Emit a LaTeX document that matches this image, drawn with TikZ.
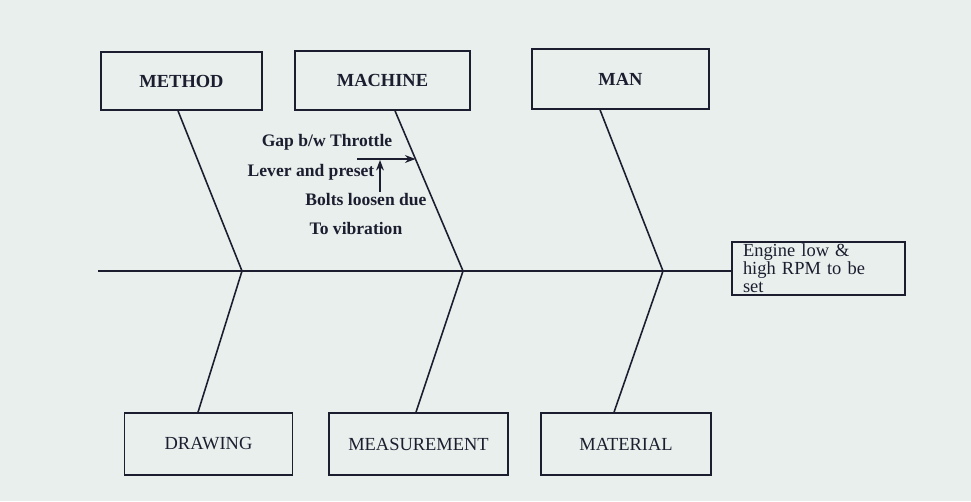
\documentclass[tikz,border=0pt]{standalone}
\usepackage{fontspec}
\usetikzlibrary{arrows.meta}
\setmainfont{Liberation Serif}
\definecolor{paper}{RGB}{233,239,236}
\definecolor{ink}{RGB}{28,30,48}
\tikzset{
  catbox/.style={draw=ink, line width=0.9pt, fill=paper, text=ink,
    inner sep=0pt, font=\fontsize{10.5}{12}\selectfont},
  headbox/.style={catbox, font=\fontsize{10.5}{12}\selectfont\bfseries},
  bone/.style={draw=ink, line width=0.9pt},
  note/.style={text=ink, inner sep=1pt, font=\fontsize{10}{12}\selectfont\bfseries}
}
\begin{document}
\begin{tikzpicture}[x=0.02cm, y=-0.02cm, >={Stealth[length=6pt,width=4.5pt]}]
    % Page and background
    \useasboundingbox[fill=paper] (0,0) rectangle (971,501);

    % Cause boxes above the spine
    \node[headbox, minimum width=3.22cm, minimum height=1.16cm] (method) at (181.5,81) {METHOD};
    \node[headbox, minimum width=3.5cm, minimum height=1.18cm] (machine) at (382.5,80.5) {MACHINE};
    \node[headbox, minimum width=3.54cm, minimum height=1.2cm] (man) at (620.5,79) {MAN};

    % Cause boxes below the spine
    \node[catbox, minimum width=3.36cm, minimum height=1.24cm] (drawing) at (208.5,444) {DRAWING};
    \node[catbox, minimum width=3.58cm, minimum height=1.24cm] (measurement) at (418.5,444) {MEASUREMENT};
    \node[catbox, minimum width=3.4cm, minimum height=1.24cm] (material) at (626,444) {MATERIAL};

    % Effect box at the head
    \node[catbox, align=left, text width=3.02cm, inner xsep=0.22cm, minimum height=1.06cm,
          font=\fontsize{10.5}{10.2}\selectfont] (engine) at (818.5,268.5)
          {Engine low \&\\high RPM to be\\set};

    % Spine and junctions
    \coordinate (tail) at (98,271);
    \coordinate (j1) at (242,271);
    \coordinate (j2) at (463,271);
    \coordinate (j3) at (663,271);
    \draw[bone] (tail) -- (tail -| engine.west);

    % Upper bones
    \draw[bone] ([xshift=-0.07cm]method.south) -- (j1);
    \draw[bone] ([xshift=0.25cm]machine.south) -- (j2);
    \draw[bone] ([xshift=-0.41cm]man.south) -- (j3);

    % Lower bones
    \draw[bone] (j1) -- ([xshift=-0.21cm]drawing.north);
    \draw[bone] (j2) -- ([xshift=-0.05cm]measurement.north);
    \draw[bone] (j3) -- ([xshift=-0.24cm]material.north);

    % Sub causes on the machine bone
    \node[note] (gap) at (327,142) {Gap b/w Throttle};
    \node[note] (lever) at (311,172) {Lever and preset};
    \node[note] (bolts) at (366,200) {Bolts loosen due};
    \node[note] (vibration) at (356,228) {To vibration};

    \coordinate (gapstart) at (357,159);
    \coordinate (gapend) at (415.5,159);
    \draw[->, ink, line width=0.8pt] (gapstart) -- (gapend);
    \draw[->, ink, line width=0.8pt] (bolts.north -| 380,0) -- (380,160);
\end{tikzpicture}
\end{document}
